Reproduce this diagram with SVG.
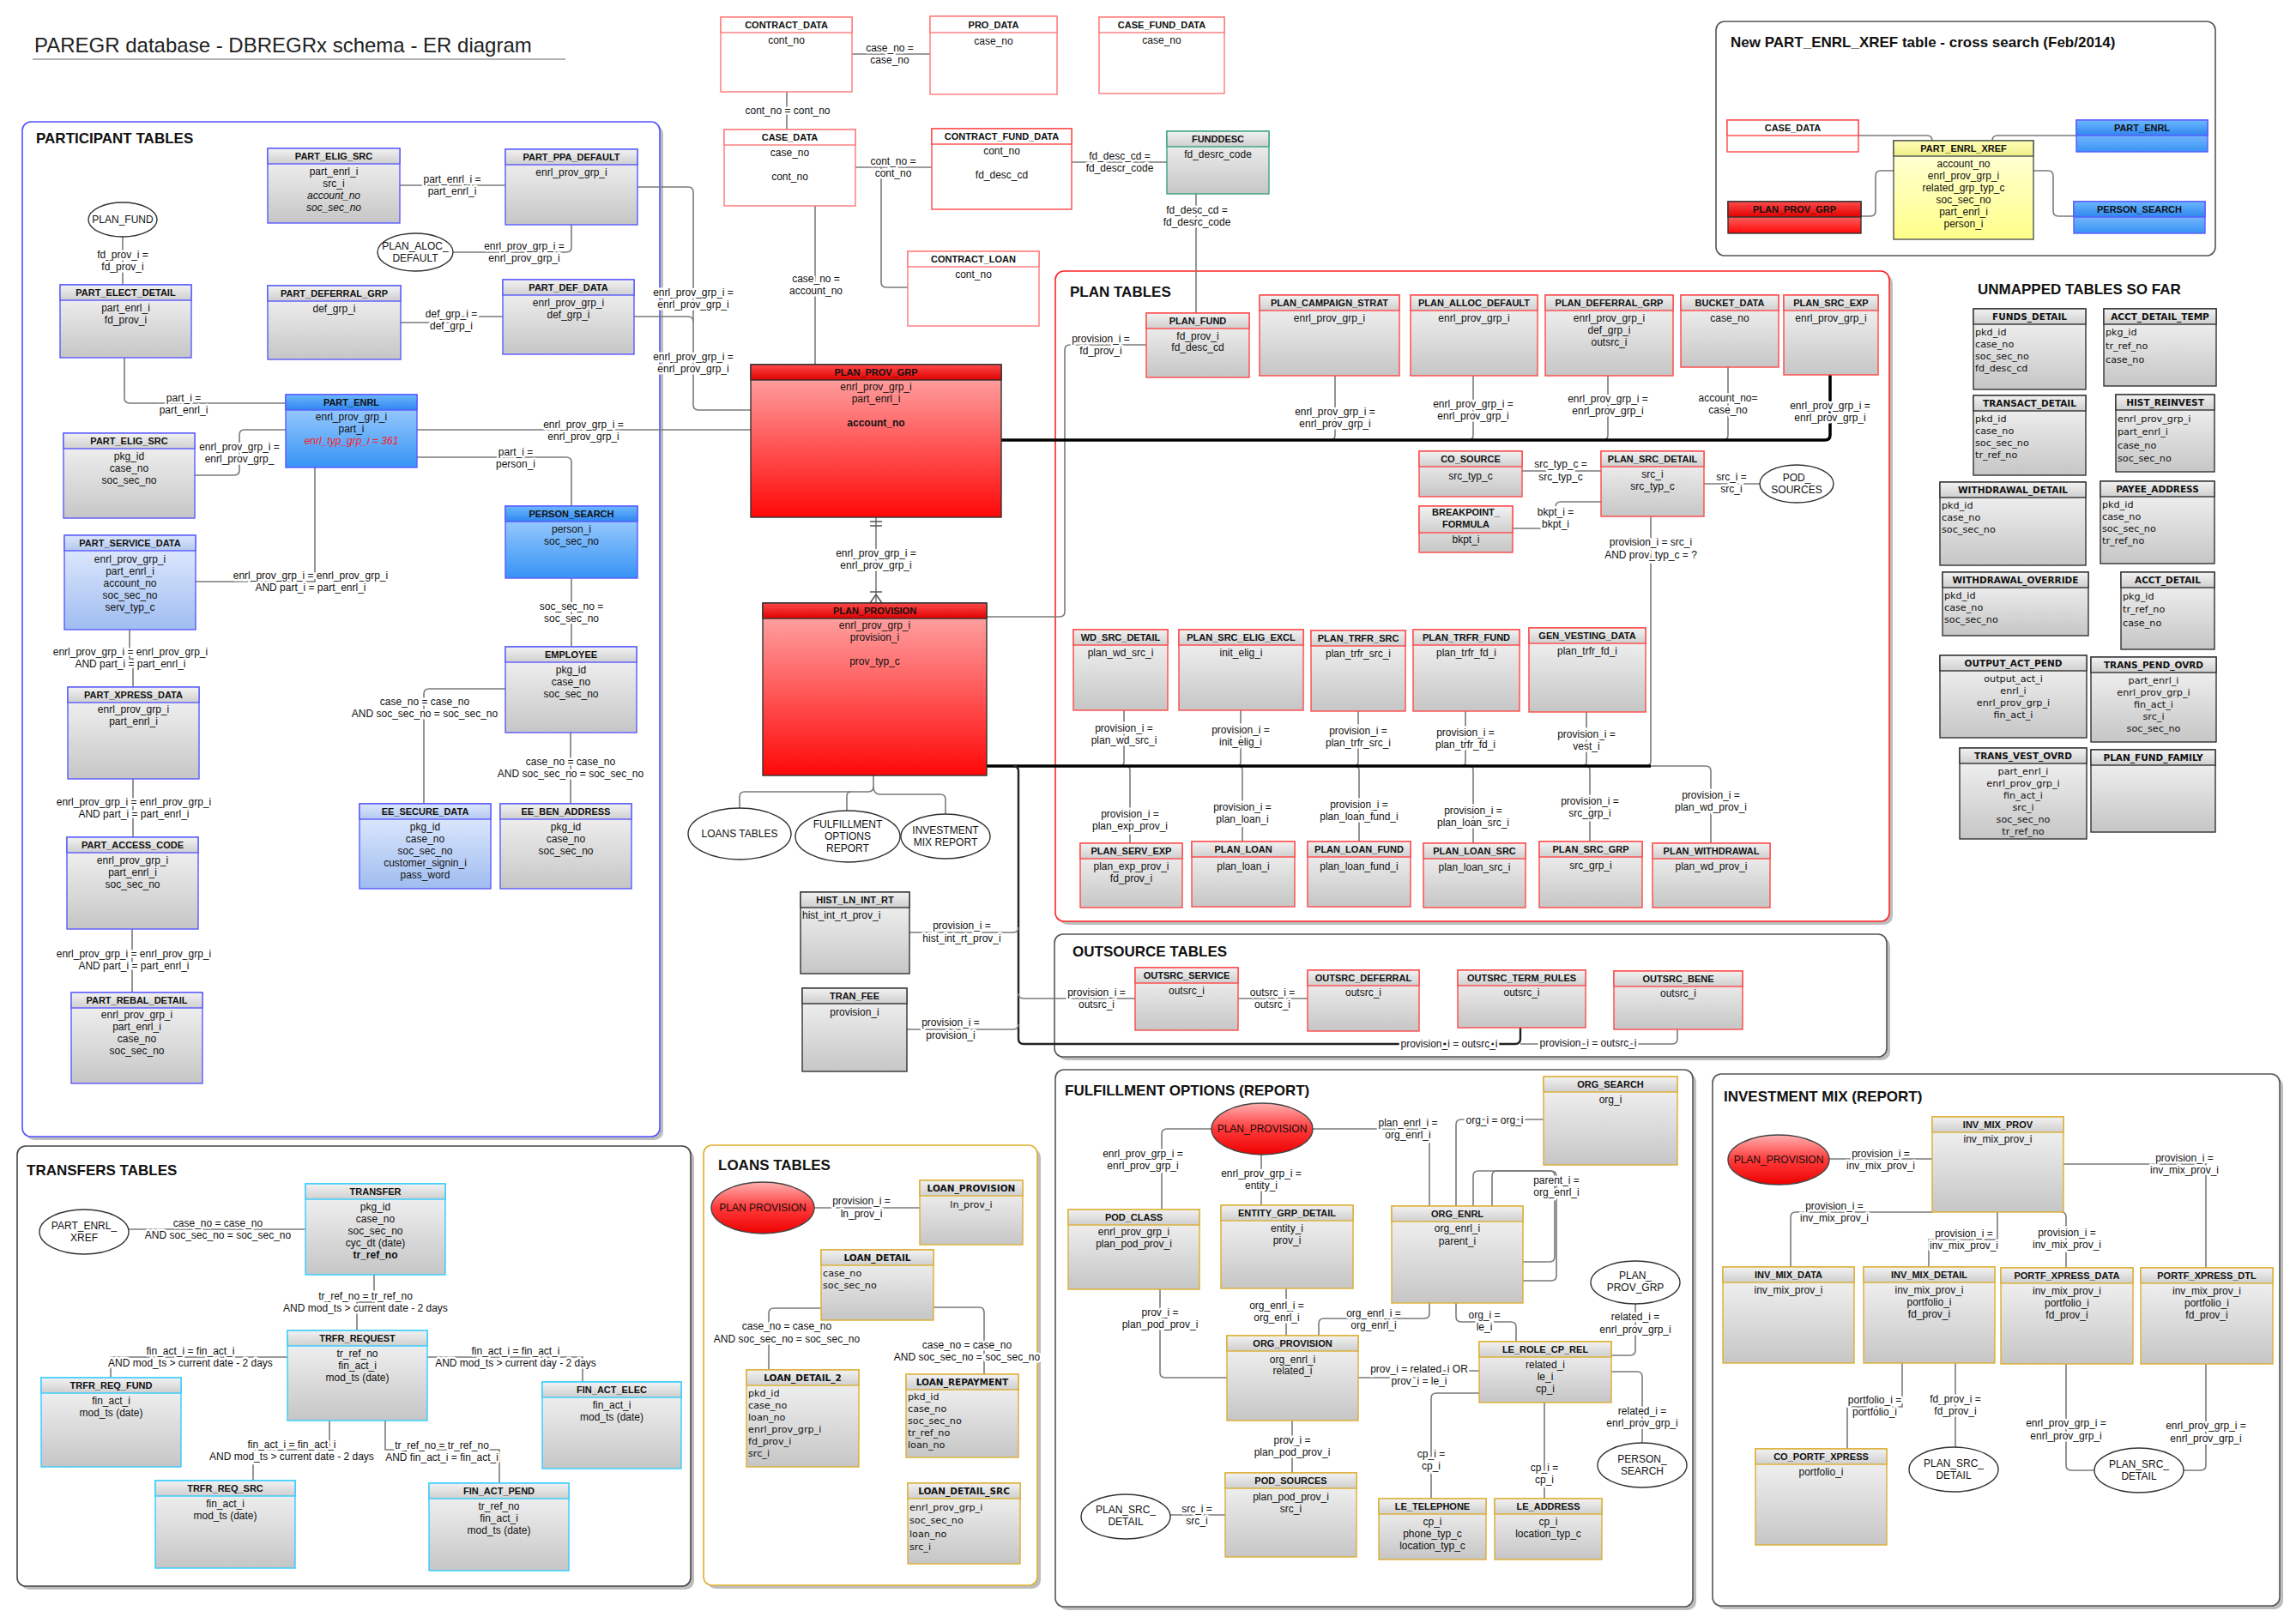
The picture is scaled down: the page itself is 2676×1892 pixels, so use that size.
<svg xmlns="http://www.w3.org/2000/svg" width="2676" height="1892" viewBox="0 0 2676 1892">
<defs>
<linearGradient id="gG" x1="0" y1="0" x2="0" y2="1"><stop offset="0" stop-color="#f6f6f6"/><stop offset="1" stop-color="#c6c6c6"/></linearGradient>
<linearGradient id="gH" x1="0" y1="0" x2="0" y2="1"><stop offset="0" stop-color="#f2f2f2"/><stop offset="1" stop-color="#cfcfcf"/></linearGradient>
<linearGradient id="gB" x1="0" y1="0" x2="0" y2="1"><stop offset="0" stop-color="#acd5ff"/><stop offset="1" stop-color="#3793f5"/></linearGradient>
<linearGradient id="gBh" x1="0" y1="0" x2="0" y2="1"><stop offset="0" stop-color="#6cb8ff"/><stop offset="1" stop-color="#2f86ee"/></linearGradient>
<linearGradient id="gLB" x1="0" y1="0" x2="0" y2="1"><stop offset="0" stop-color="#e6eeff"/><stop offset="1" stop-color="#9fbdf0"/></linearGradient>
<linearGradient id="gLBh" x1="0" y1="0" x2="0" y2="1"><stop offset="0" stop-color="#dae6fc"/><stop offset="1" stop-color="#b4c9f0"/></linearGradient>
<linearGradient id="gR" x1="0" y1="0" x2="0" y2="1"><stop offset="0" stop-color="#ffadad"/><stop offset="1" stop-color="#ff0808"/></linearGradient>
<linearGradient id="gRh" x1="0" y1="0" x2="0" y2="1"><stop offset="0" stop-color="#ff4a4a"/><stop offset="1" stop-color="#e00000"/></linearGradient>
<linearGradient id="gY" x1="0" y1="0" x2="0" y2="1"><stop offset="0" stop-color="#ffffdc"/><stop offset="1" stop-color="#ffff8a"/></linearGradient>
<linearGradient id="gYh" x1="0" y1="0" x2="0" y2="1"><stop offset="0" stop-color="#ffffb8"/><stop offset="1" stop-color="#eeee86"/></linearGradient>
<linearGradient id="gER" x1="0" y1="0" x2="0" y2="1"><stop offset="0" stop-color="#ffb0b0"/><stop offset="0.5" stop-color="#ff3a3a"/><stop offset="1" stop-color="#ee0000"/></linearGradient>
</defs>
<style>
text{font-family:"Liberation Sans",Arial,Helvetica,sans-serif;fill:#111}
.ttl{font-size:24px;fill:#222}
.sec{font-size:17px;font-weight:bold}
.ht{font-size:11px;font-weight:bold;text-anchor:middle}
.f{font-size:12px;text-anchor:middle}
.fl{font-size:12px}
.i{font-style:italic}
.b{font-weight:bold}
.red{fill:#ff1a1a}
.dv text{font-family:"DejaVu Sans",Verdana,sans-serif}
.dv .f,.dv .fl{font-size:11.2px}
.dv .ht{font-size:10.5px}
.l{font-size:12px;text-anchor:middle;stroke:#fff;stroke-width:5;stroke-linejoin:round;paint-order:stroke}
.et{font-size:12px;text-anchor:middle}
.c{fill:none;stroke:#7a7a7a;stroke-width:1.6}
.bus{fill:none;stroke:#000;stroke-width:3.5}
.bus2{fill:none;stroke:#222;stroke-width:2.4}
.tb rect{stroke-width:1.4}
.bd{fill:url(#gG)}
.hd{fill:url(#gH)}
.kb rect{stroke:#5a5aff}
.kr rect{stroke:#ff4848}
.kp rect{stroke:#ff7878}
.ky rect{stroke:#dcae32}
.kc rect{stroke:#33ccff}
.kd rect{stroke:#333}
.kg rect{stroke:#3aa383}
.w .bd,.w .hd{fill:#fff}
.B1 .bd{fill:url(#gB)}
.B1 .hd{fill:url(#gBh)}
.B2 .bd{fill:url(#gLB)}
.B2 .hd{fill:url(#gLBh)}
.R .bd{fill:url(#gR)}
.R .hd{fill:url(#gRh)}
.Y .bd{fill:url(#gY)}
.Y .hd{fill:url(#gYh)}
.el{fill:#fff;stroke:#333;stroke-width:1.4}
.elr{fill:url(#gER);stroke:#444;stroke-width:1.4}
.sh{fill:#bdbdbd}
.pn{fill:#fff;stroke-width:1.6}
</style>
<rect width="2676" height="1892" fill="#fff"/>

<g id="title">
<text class="ttl" x="40" y="61">PAREGR database - DBREGRx schema - ER diagram</text>
<line x1="38" y1="69" x2="659" y2="69" stroke="#999" stroke-width="1.5"/>
</g>

<g id="panels">
<rect class="sh" x="30" y="146" width="743" height="1183" rx="10"/>
<rect class="pn" x="26" y="142" width="743" height="1183" rx="10" stroke="#5050ff"/>
<rect class="sh" x="24" y="1340" width="785" height="513" rx="10"/>
<rect class="pn" x="20" y="1336" width="785" height="513" rx="10" stroke="#444"/>
<rect class="sh" x="824" y="1339" width="389" height="513" rx="10"/>
<rect class="pn" x="820" y="1335" width="389" height="513" rx="10" stroke="#e0b030"/>
<rect class="sh" x="1234" y="320" width="972" height="758" rx="10"/>
<rect class="pn" x="1230" y="316" width="972" height="758" rx="10" stroke="#ff2424"/>
<rect class="sh" x="1233" y="1093" width="970" height="143" rx="10"/>
<rect class="pn" x="1229" y="1089" width="970" height="143" rx="10" stroke="#555"/>
<rect class="sh" x="1234" y="1251" width="743" height="626" rx="10"/>
<rect class="pn" x="1230" y="1247" width="743" height="626" rx="10" stroke="#555"/>
<rect class="sh" x="2000" y="1256" width="661" height="620" rx="10"/>
<rect class="pn" x="1996" y="1252" width="661" height="620" rx="10" stroke="#555"/>
<rect class="pn" x="2000" y="25" width="582" height="273" rx="10" stroke="#555"/>
<text class="sec" x="42" y="167">PARTICIPANT TABLES</text>
<text class="sec" x="31" y="1370">TRANSFERS TABLES</text>
<text class="sec" x="837" y="1364">LOANS TABLES</text>
<text class="sec" x="1247" y="346">PLAN TABLES</text>
<text class="sec" x="1250" y="1115">OUTSOURCE TABLES</text>
<text class="sec" x="1241" y="1277">FULFILLMENT OPTIONS (REPORT)</text>
<text class="sec" x="2009" y="1284">INVESTMENT MIX (REPORT)</text>
<text class="sec" x="2305" y="343">UNMAPPED TABLES SO FAR</text>
<text class="sec" x="2017" y="55">New PART_ENRL_XREF table - cross search (Feb/2014)</text>
</g>

<g id="connectors">
<path class="c" d="M143,276 V332"/>
<path class="c" d="M466,216 H589"/>
<path class="c" d="M528,294 H660 Q666,294 666,288 V262"/>
<path class="c" d="M467,376 H526 V369 H586"/>
<path class="c" d="M145,417 V464 Q145,470 151,470 H333"/>
<path class="c" d="M227,554 H273 Q279,554 279,548 V507 Q279,501 285,501 H333"/>
<path class="c" d="M486,533 H660 Q666,533 666,539 V590"/>
<path class="c" d="M486,501 H875"/>
<path class="c" d="M743,218 H802 Q808,218 808,224 V472 Q808,478 814,478 H875"/>
<path class="c" d="M739,369 H802 Q808,369 808,375"/>
<path class="c" d="M367,545 V678 H228"/>
<path class="c" d="M151,734 V768 H155 V801"/>
<path class="c" d="M155,908 V976"/>
<path class="c" d="M154,1083 V1157"/>
<path class="c" d="M666,674 V754"/>
<path class="c" d="M589,803 H500 Q494,803 494,809 V937"/>
<path class="c" d="M665,854 V937"/>
<path class="c" d="M993,63 H1084"/>
<path class="c" d="M917,107 V151"/>
<path class="c" d="M997,195 H1086"/>
<path class="c" d="M1027,195 V329 Q1027,335 1033,335 H1058"/>
<path class="c" d="M1249,189 H1360"/>
<path class="c" d="M1394,226 V365"/>
<path class="c" d="M950,240 V425"/>
<path class="c" d="M1021,603 V703"/>
<path d="M1014,608 H1028 M1014,613 H1028 M1014,690 H1028 M1021,693 L1014,703 M1021,693 L1028,703" stroke="#555" stroke-width="1.6" fill="none"/>
<path class="c" d="M1150,719 H1235 Q1241,719 1241,713 V408 Q1241,402 1247,402 H1336"/>
<path class="c" d="M1556,438 V507 Q1556,513 1550,513"/>
<path class="c" d="M1717,438 V507 Q1717,513 1711,513"/>
<path class="c" d="M1874,438 V507 Q1874,513 1868,513"/>
<path class="c" d="M2014,428 V507 Q2014,513 2008,513"/>
<path class="bus" d="M1167,513 H2127 Q2133,513 2133,507 V437" stroke-width="3"/>
<path class="c" d="M1924,602 V887 Q1924,893 1918,893"/>
<path class="c" d="M1924,893 H1988 Q1994,893 1994,899 V983"/>
<path class="c" d="M1310,828 V888 Q1310,893 1305,893"/>
<path class="c" d="M1446,828 V888 Q1446,893 1441,893"/>
<path class="c" d="M1583,829 V888 Q1583,893 1578,893"/>
<path class="c" d="M1708,829 V888 Q1708,893 1703,893"/>
<path class="c" d="M1849,830 V888 Q1849,893 1844,893"/>
<path class="c" d="M1312,893 Q1317,893 1317,898 V983"/>
<path class="c" d="M1443,893 Q1448,893 1448,898 V981"/>
<path class="c" d="M1579,893 Q1584,893 1584,898 V981"/>
<path class="c" d="M1712,893 Q1717,893 1717,898 V983"/>
<path class="c" d="M1848,893 Q1853,893 1853,898 V981"/>
<path class="bus" d="M1150,893 H1924"/>
<path class="bus2" d="M1181,893 Q1187,893 1187,899 V1211 Q1187,1217 1193,1217 H1766 Q1772,1217 1772,1211 V1198"/>
<path class="c" d="M1772,1217 H1949 Q1955,1217 1955,1211 V1200"/>
<path class="c" d="M1060,1087 H1181 Q1187,1087 1187,1081"/>
<path class="c" d="M1057,1200 H1181 Q1187,1200 1187,1194"/>
<path class="c" d="M1187,1158 Q1187,1164 1193,1164 H1323"/>
<path class="c" d="M1443,1164 H1524"/>
<path class="c" d="M1018,904 V917 Q1018,923 1012,923 H868 Q862,923 862,929 V942"/>
<path class="c" d="M992,923 Q987,923 987,928 V945"/>
<path class="c" d="M1018,917 Q1018,926 1026,926 H1096 Q1102,926 1102,932 V949"/>
<path class="c" d="M1774,549 H1866"/>
<path class="c" d="M1986,564 H2051"/>
<path class="c" d="M1763,616 H1813 V591 Q1813,585 1819,585 H1866"/>
<path class="c" d="M150,1433 H356"/>
<path class="c" d="M436,1486 V1518 H416 V1551"/>
<path class="c" d="M335,1582 H129 V1606"/>
<path class="c" d="M498,1582 H679 V1611"/>
<path class="c" d="M384,1656 V1690 H295 V1726"/>
<path class="c" d="M449,1656 V1690 H582 V1729"/>
<path class="c" d="M949,1408 H1072"/>
<path class="c" d="M957,1525 H902 Q896,1525 896,1531 V1597"/>
<path class="c" d="M1088,1524 H1141 Q1147,1524 1147,1530 V1602"/>
<path class="c" d="M1412,1316 H1360 Q1354,1316 1354,1322 V1410"/>
<path class="c" d="M1470,1346 V1405"/>
<path class="c" d="M1530,1316 H1660 Q1666,1316 1666,1322 V1406"/>
<path class="c" d="M1799,1305 H1703 Q1697,1305 1697,1311 V1406"/>
<path class="c" d="M1717,1406 V1371 Q1717,1365 1723,1365 H1806 Q1812,1365 1812,1371 V1465 Q1812,1471 1806,1471 H1775"/>
<path class="c" d="M1739,1406 V1371 Q1739,1365 1745,1365 H1808 Q1814,1365 1814,1371 V1487 Q1814,1493 1808,1493 H1775"/>
<path class="c" d="M1666,1519 V1531 Q1666,1537 1660,1537 H1543 Q1537,1537 1537,1543 V1557"/>
<path class="c" d="M1499,1502 V1557"/>
<path class="c" d="M1697,1519 V1535 Q1697,1541 1703,1541 H1761 Q1767,1541 1767,1547 V1564"/>
<path class="c" d="M1352,1503 V1600 Q1352,1606 1358,1606 H1430"/>
<path class="c" d="M1583,1606 H1654 V1598 H1724"/>
<path class="c" d="M1878,1580 H1900 Q1906,1580 1906,1574 V1520"/>
<path class="c" d="M1878,1599 H1908 Q1914,1599 1914,1605 V1682"/>
<path class="c" d="M1724,1624 H1674 Q1668,1624 1668,1630 V1747"/>
<path class="c" d="M1800,1635 V1747"/>
<path class="c" d="M1506,1656 V1717"/>
<path class="c" d="M1364,1766 H1428"/>
<path class="c" d="M2132,1351 H2252"/>
<path class="c" d="M2405,1357 H2571 V1478"/>
<path class="c" d="M2252,1413 H2093 Q2087,1413 2087,1419 V1477"/>
<path class="c" d="M2328,1413 V1445 H2248 V1477"/>
<path class="c" d="M2403,1413 Q2408,1413 2408,1419 V1478"/>
<path class="c" d="M2217,1589 V1640 H2153 V1689"/>
<path class="c" d="M2279,1589 V1687"/>
<path class="c" d="M2408,1590 V1708 Q2408,1714 2414,1714 H2441"/>
<path class="c" d="M2571,1590 V1708 Q2571,1714 2565,1714 H2545"/>
<path class="c" d="M2166,158 H2246 Q2252,158 2252,164"/>
<path class="c" d="M2420,158 H2328 Q2322,158 2322,164"/>
<path class="c" d="M2169,252 H2180 Q2186,252 2186,246 V205 Q2186,199 2192,199 H2207"/>
<path class="c" d="M2417,252 H2399 Q2393,252 2393,246 V205 Q2393,199 2387,199 H2370"/>

<text class="l" x="143" y="301">fd_prov_i =<tspan x="143" dy="14">fd_prov_i</tspan></text>
<text class="l" x="527" y="213">part_enrl_i =<tspan x="527" dy="14">part_enrl_i</tspan></text>
<text class="l" x="611" y="291">enrl_prov_grp_i =<tspan x="611" dy="14">enrl_prov_grp_i</tspan></text>
<text class="l" x="526" y="370">def_grp_i =<tspan x="526" dy="14">def_grp_i</tspan></text>
<text class="l" x="214" y="468">part_i =<tspan x="214" dy="14">part_enrl_i</tspan></text>
<text class="l" x="279" y="525">enrl_prov_grp_i =<tspan x="279" dy="14">enrl_prov_grp_</tspan></text>
<text class="l" x="601" y="531">part_i =<tspan x="601" dy="14">person_i</tspan></text>
<text class="l" x="680" y="499">enrl_prov_grp_i =<tspan x="680" dy="14">enrl_prov_grp_i</tspan></text>
<text class="l" x="808" y="345">enrl_prov_grp_i =<tspan x="808" dy="14">enrl_prov_grp_i</tspan></text>
<text class="l" x="808" y="420">enrl_prov_grp_i =<tspan x="808" dy="14">enrl_prov_grp_i</tspan></text>
<text class="l" x="362" y="675">enrl_prov_grp_i = enrl_prov_grp_i<tspan x="362" dy="14">AND part_i = part_enrl_i</tspan></text>
<text class="l" x="152" y="764">enrl_prov_grp_i = enrl_prov_grp_i<tspan x="152" dy="14">AND part_i = part_enrl_i</tspan></text>
<text class="l" x="156" y="939">enrl_prov_grp_i = enrl_prov_grp_i<tspan x="156" dy="14">AND part_i = part_enrl_i</tspan></text>
<text class="l" x="156" y="1116">enrl_prov_grp_i = enrl_prov_grp_i<tspan x="156" dy="14">AND part_i = part_enrl_i</tspan></text>
<text class="l" x="666" y="711">soc_sec_no =<tspan x="666" dy="14">soc_sec_no</tspan></text>
<text class="l" x="495" y="822">case_no = case_no<tspan x="495" dy="14">AND soc_sec_no = soc_sec_no</tspan></text>
<text class="l" x="665" y="892">case_no = case_no<tspan x="665" dy="14">AND soc_sec_no = soc_sec_no</tspan></text>
<text class="l" x="1037" y="60">case_no =<tspan x="1037" dy="14">case_no</tspan></text>
<text class="l" x="918" y="133">cont_no = cont_no</text>
<text class="l" x="1041" y="192">cont_no =<tspan x="1041" dy="14">cont_no</tspan></text>
<text class="l" x="1305" y="186">fd_desc_cd =<tspan x="1305" dy="14">fd_descr_code</tspan></text>
<text class="l" x="1395" y="249">fd_desc_cd =<tspan x="1395" dy="14">fd_desrc_code</tspan></text>
<text class="l" x="951" y="329">case_no =<tspan x="951" dy="14">account_no</tspan></text>
<text class="l" x="1021" y="649">enrl_prov_grp_i =<tspan x="1021" dy="14">enrl_prov_grp_i</tspan></text>
<text class="l" x="1283" y="399">provision_i =<tspan x="1283" dy="14">fd_prov_i</tspan></text>
<text class="l" x="1556" y="484">enrl_prov_grp_i =<tspan x="1556" dy="14">enrl_prov_grp_i</tspan></text>
<text class="l" x="1717" y="475">enrl_prov_grp_i =<tspan x="1717" dy="14">enrl_prov_grp_i</tspan></text>
<text class="l" x="1874" y="469">enrl_prov_grp_i =<tspan x="1874" dy="14">enrl_prov_grp_i</tspan></text>
<text class="l" x="2014" y="468">account_no=<tspan x="2014" dy="14">case_no</tspan></text>
<text class="l" x="2133" y="477">enrl_prov_grp_i =<tspan x="2133" dy="14">enrl_prov_grp_i</tspan></text>
<text class="l" x="1924" y="636">provision_i = src_i<tspan x="1924" dy="15">AND prov_typ_c = ?</tspan></text>
<text class="l" x="1994" y="931">provision_i =<tspan x="1994" dy="14">plan_wd_prov_i</tspan></text>
<text class="l" x="1310" y="853">provision_i =<tspan x="1310" dy="14">plan_wd_src_i</tspan></text>
<text class="l" x="1446" y="855">provision_i =<tspan x="1446" dy="14">init_elig_i</tspan></text>
<text class="l" x="1583" y="856">provision_i =<tspan x="1583" dy="14">plan_trfr_src_i</tspan></text>
<text class="l" x="1708" y="858">provision_i =<tspan x="1708" dy="14">plan_trfr_fd_i</tspan></text>
<text class="l" x="1849" y="860">provision_i =<tspan x="1849" dy="14">vest_i</tspan></text>
<text class="l" x="1317" y="953">provision_i =<tspan x="1317" dy="14">plan_exp_prov_i</tspan></text>
<text class="l" x="1448" y="945">provision_i =<tspan x="1448" dy="14">plan_loan_i</tspan></text>
<text class="l" x="1584" y="942">provision_i =<tspan x="1584" dy="14">plan_loan_fund_i</tspan></text>
<text class="l" x="1717" y="949">provision_i =<tspan x="1717" dy="14">plan_loan_src_i</tspan></text>
<text class="l" x="1853" y="938">provision_i =<tspan x="1853" dy="14">src_grp_i</tspan></text>
<text class="l" x="1689" y="1221">provision_i = outsrc_i</text>
<text class="l" x="1851" y="1220">provision_i = outsrc_i</text>
<text class="l" x="1121" y="1083">provision_i =<tspan x="1121" dy="15">hist_int_rt_prov_i</tspan></text>
<text class="l" x="1108" y="1196">provision_i =<tspan x="1108" dy="15">provision_i</tspan></text>
<text class="l" x="1278" y="1161">provision_i =<tspan x="1278" dy="14">outsrc_i</tspan></text>
<text class="l" x="1483" y="1161">outsrc_i =<tspan x="1483" dy="14">outsrc_i</tspan></text>
<text class="l" x="1819" y="545">src_typ_c =<tspan x="1819" dy="15">src_typ_c</tspan></text>
<text class="l" x="2018" y="560">src_i =<tspan x="2018" dy="14">src_i</tspan></text>
<text class="l" x="1813" y="601">bkpt_i =<tspan x="1813" dy="14">bkpt_i</tspan></text>
<text class="l" x="254" y="1430">case_no = case_no<tspan x="254" dy="14">AND soc_sec_no = soc_sec_no</tspan></text>
<text class="l" x="426" y="1515">tr_ref_no = tr_ref_no<tspan x="426" dy="14">AND mod_ts &gt; current date - 2 days</tspan></text>
<text class="l" x="222" y="1579">fin_act_i = fin_act_i<tspan x="222" dy="14">AND mod_ts &gt; current date - 2 days</tspan></text>
<text class="l" x="601" y="1579">fin_act_i = fin_act_i<tspan x="601" dy="14">AND mod_ts &gt; current day - 2 days</tspan></text>
<text class="l" x="340" y="1688">fin_act_i = fin_act_i<tspan x="340" dy="14">AND mod_ts &gt; current date - 2 days</tspan></text>
<text class="l" x="515" y="1689">tr_ref_no = tr_ref_no<tspan x="515" dy="14">AND fin_act_i = fin_act_i</tspan></text>
<text class="l" x="1004" y="1404">provision_i =<tspan x="1004" dy="15">ln_prov_i</tspan></text>
<text class="l" x="917" y="1550">case_no = case_no<tspan x="917" dy="15">AND soc_sec_no = soc_sec_no</tspan></text>
<text class="l" x="1127" y="1572">case_no = case_no<tspan x="1127" dy="14">AND soc_sec_no = soc_sec_no</tspan></text>
<text class="l" x="1332" y="1349">enrl_prov_grp_i =<tspan x="1332" dy="14">enrl_prov_grp_i</tspan></text>
<text class="l" x="1470" y="1372">enrl_prov_grp_i =<tspan x="1470" dy="14">entity_i</tspan></text>
<text class="l" x="1641" y="1313">plan_enrl_i =<tspan x="1641" dy="14">org_enrl_i</tspan></text>
<text class="l" x="1742" y="1310">org_i = org_i</text>
<text class="l" x="1814" y="1380">parent_i =<tspan x="1814" dy="14">org_enrl_i</tspan></text>
<text class="l" x="1601" y="1535">org_enrl_i =<tspan x="1601" dy="14">org_enrl_i</tspan></text>
<text class="l" x="1488" y="1526">org_enrl_i =<tspan x="1488" dy="14">org_enrl_i</tspan></text>
<text class="l" x="1730" y="1537">org_i =<tspan x="1730" dy="14">le_i</tspan></text>
<text class="l" x="1352" y="1534">prov_i =<tspan x="1352" dy="14">plan_pod_prov_i</tspan></text>
<text class="l" x="1654" y="1600">prov_i = related_i OR<tspan x="1654" dy="14">prov_i = le_i</tspan></text>
<text class="l" x="1906" y="1539">related_i =<tspan x="1906" dy="15">enrl_prov_grp_i</tspan></text>
<text class="l" x="1914" y="1649">related_i =<tspan x="1914" dy="14">enrl_prov_grp_i</tspan></text>
<text class="l" x="1668" y="1699">cp_i =<tspan x="1668" dy="14">cp_i</tspan></text>
<text class="l" x="1800" y="1715">cp_i =<tspan x="1800" dy="14">cp_i</tspan></text>
<text class="l" x="1506" y="1683">prov_i =<tspan x="1506" dy="14">plan_pod_prov_i</tspan></text>
<text class="l" x="1395" y="1763">src_i =<tspan x="1395" dy="14">src_i</tspan></text>
<text class="l" x="2192" y="1349">provision_i =<tspan x="2192" dy="14">inv_mix_prov_i</tspan></text>
<text class="l" x="2546" y="1354">provision_i =<tspan x="2546" dy="14">inv_mix_prov_i</tspan></text>
<text class="l" x="2138" y="1410">provision_i =<tspan x="2138" dy="14">inv_mix_prov_i</tspan></text>
<text class="l" x="2289" y="1442">provision_i =<tspan x="2289" dy="14">inv_mix_prov_i</tspan></text>
<text class="l" x="2409" y="1441">provision_i =<tspan x="2409" dy="14">inv_mix_prov_i</tspan></text>
<text class="l" x="2185" y="1636">portfolio_i =<tspan x="2185" dy="14">portfolio_i</tspan></text>
<text class="l" x="2279" y="1635">fd_prov_i =<tspan x="2279" dy="14">fd_prov_i</tspan></text>
<text class="l" x="2408" y="1663">enrl_prov_grp_i =<tspan x="2408" dy="15">enrl_prov_grp_i</tspan></text>
<text class="l" x="2571" y="1666">enrl_prov_grp_i =<tspan x="2571" dy="15">enrl_prov_grp_i</tspan></text>
</g>

<g id="ellipses">
<g id="e-PLAN_FUND"><ellipse class="el" cx="143" cy="256" rx="40" ry="20"/><text class="et" x="143" y="260">PLAN_FUND</text></g>
<g id="e-PLAN_ALOC_DEFAULT"><ellipse class="el" cx="484" cy="294" rx="44" ry="22"/><text class="et" x="484" y="291">PLAN_ALOC_<tspan x="484" dy="14">DEFAULT</tspan></text></g>
<g id="e-LOANS_TABLES"><ellipse class="el" cx="862" cy="972" rx="60" ry="30"/><text class="et" x="862" y="976">LOANS TABLES</text></g>
<g id="e-FULFILLMENT"><ellipse class="el" cx="988" cy="975" rx="61" ry="30"/><text class="et" x="988" y="965">FULFILLMENT<tspan x="988" dy="14">OPTIONS</tspan><tspan x="988" dy="14">REPORT</tspan></text></g>
<g id="e-INVESTMENT"><ellipse class="el" cx="1102" cy="975" rx="52" ry="26"/><text class="et" x="1102" y="972">INVESTMENT<tspan x="1102" dy="14">MIX REPORT</tspan></text></g>
<g id="e-PART_ENRL_XREF"><ellipse class="el" cx="98" cy="1436" rx="52" ry="26"/><text class="et" x="98" y="1433">PART_ENRL_<tspan x="98" dy="14">XREF</tspan></text></g>
<g id="e-POD_SOURCES"><ellipse class="el" cx="2094" cy="564" rx="43" ry="22"/><text class="et" x="2094" y="561">POD_<tspan x="2094" dy="14">SOURCES</tspan></text></g>
<g id="e-PLAN_PROVISION-loans"><ellipse class="elr" cx="889" cy="1408" rx="60" ry="30"/><text class="et" x="889" y="1412">PLAN PROVISION</text></g>
<g id="e-PLAN_PROVISION-ful"><ellipse class="elr" cx="1471" cy="1316" rx="59" ry="30"/><text class="et" x="1471" y="1320">PLAN_PROVISION</text></g>
<g id="e-PLAN_PROV_GRP"><ellipse class="el" cx="1906" cy="1495" rx="52" ry="25"/><text class="et" x="1906" y="1491">PLAN_<tspan x="1906" dy="14">PROV_GRP</tspan></text></g>
<g id="e-PERSON_SEARCH"><ellipse class="el" cx="1914" cy="1708" rx="52" ry="26"/><text class="et" x="1914" y="1705">PERSON_<tspan x="1914" dy="14">SEARCH</tspan></text></g>
<g id="e-PLAN_SRC_DETAIL-ful"><ellipse class="el" cx="1312" cy="1768" rx="52" ry="26"/><text class="et" x="1312" y="1764">PLAN_SRC_<tspan x="1312" dy="14">DETAIL</tspan></text></g>
<g id="e-PLAN_PROVISION-inv"><ellipse class="elr" cx="2073" cy="1352" rx="59" ry="29"/><text class="et" x="2073" y="1356">PLAN_PROVISION</text></g>
<g id="e-PLAN_SRC_DETAIL-inv1"><ellipse class="el" cx="2277" cy="1713" rx="52" ry="26"/><text class="et" x="2277" y="1710">PLAN_SRC_<tspan x="2277" dy="14">DETAIL</tspan></text></g>
<g id="e-PLAN_SRC_DETAIL-inv2"><ellipse class="el" cx="2493" cy="1714" rx="52" ry="26"/><text class="et" x="2493" y="1711">PLAN_SRC_<tspan x="2493" dy="14">DETAIL</tspan></text></g>
</g>

<g id="participant-tables">
<g id="PART_ELIG_SRC_1" class="tb kb"><rect class="bd" x="312" y="173" width="154" height="87"/><rect class="hd" x="312" y="173" width="154" height="18"/><text class="ht" x="389" y="186">PART_ELIG_SRC</text><text class="f" x="389" y="204">part_enrl_i</text><text class="f" x="389" y="218">src_i</text><text class="f i" x="389" y="232">account_no</text><text class="f i" x="389" y="246">soc_sec_no</text></g>
<g id="PART_PPA_DEFAULT" class="tb kb"><rect class="bd" x="589" y="174" width="154" height="88"/><rect class="hd" x="589" y="174" width="154" height="18"/><text class="ht" x="666" y="187">PART_PPA_DEFAULT</text><text class="f" x="666" y="205">enrl_prov_grp_i</text></g>
<g id="PART_ELECT_DETAIL" class="tb kb"><rect class="bd" x="70" y="332" width="153" height="85"/><rect class="hd" x="70" y="332" width="153" height="18"/><text class="ht" x="146.5" y="345">PART_ELECT_DETAIL</text><text class="f" x="146.5" y="363">part_enrl_i</text><text class="f" x="146.5" y="377">fd_prov_i</text></g>
<g id="PART_DEFERRAL_GRP" class="tb kb"><rect class="bd" x="312" y="333" width="155" height="86"/><rect class="hd" x="312" y="333" width="155" height="18"/><text class="ht" x="389.5" y="346">PART_DEFERRAL_GRP</text><text class="f" x="389.5" y="364">def_grp_i</text></g>
<g id="PART_DEF_DATA" class="tb kb"><rect class="bd" x="586" y="326" width="153" height="87"/><rect class="hd" x="586" y="326" width="153" height="18"/><text class="ht" x="662.5" y="339">PART_DEF_DATA</text><text class="f" x="662.5" y="357">enrl_prov_grp_i</text><text class="f" x="662.5" y="371">def_grp_i</text></g>
<g id="PART_ENRL" class="tb kb B1"><rect class="bd" x="333" y="460" width="153" height="85"/><rect class="hd" x="333" y="460" width="153" height="18"/><text class="ht" x="409.5" y="473">PART_ENRL</text><text class="f" x="409.5" y="490">enrl_prov_grp_i</text><text class="f" x="409.5" y="504">part_i</text><text class="f i red" x="409.5" y="518">enrl_typ_grp_i = 361</text></g>
<g id="PART_ELIG_SRC_2" class="tb kb"><rect class="bd" x="74" y="505" width="153" height="99"/><rect class="hd" x="74" y="505" width="153" height="18"/><text class="ht" x="150.5" y="518">PART_ELIG_SRC</text><text class="f" x="150.5" y="536">pkg_id</text><text class="f" x="150.5" y="550">case_no</text><text class="f" x="150.5" y="564">soc_sec_no</text></g>
<g id="PERSON_SEARCH" class="tb kb B1"><rect class="bd" x="589" y="590" width="154" height="84"/><rect class="hd" x="589" y="590" width="154" height="18"/><text class="ht" x="666" y="603">PERSON_SEARCH</text><text class="f" x="666" y="621">person_i</text><text class="f" x="666" y="635">soc_sec_no</text></g>
<g id="PART_SERVICE_DATA" class="tb kb B2"><rect class="bd" x="75" y="624" width="153" height="110"/><rect class="hd" x="75" y="624" width="153" height="18"/><text class="ht" x="151.5" y="637">PART_SERVICE_DATA</text><text class="f" x="151.5" y="656">enrl_prov_grp_i</text><text class="f" x="151.5" y="670">part_enrl_i</text><text class="f" x="151.5" y="684">account_no</text><text class="f" x="151.5" y="698">soc_sec_no</text><text class="f" x="151.5" y="712">serv_typ_c</text></g>
<g id="PART_XPRESS_DATA" class="tb kb"><rect class="bd" x="79" y="801" width="153" height="107"/><rect class="hd" x="79" y="801" width="153" height="18"/><text class="ht" x="155.5" y="814">PART_XPRESS_DATA</text><text class="f" x="155.5" y="831">enrl_prov_grp_i</text><text class="f" x="155.5" y="845">part_enrl_i</text></g>
<g id="EMPLOYEE" class="tb kb"><rect class="bd" x="589" y="754" width="153" height="100"/><rect class="hd" x="589" y="754" width="153" height="18"/><text class="ht" x="665.5" y="767">EMPLOYEE</text><text class="f" x="665.5" y="785">pkg_id</text><text class="f" x="665.5" y="799">case_no</text><text class="f" x="665.5" y="813">soc_sec_no</text></g>
<g id="EE_SECURE_DATA" class="tb kb B2"><rect class="bd" x="419" y="937" width="153" height="99"/><rect class="hd" x="419" y="937" width="153" height="18"/><text class="ht" x="495.5" y="950">EE_SECURE_DATA</text><text class="f" x="495.5" y="968">pkg_id</text><text class="f" x="495.5" y="982">case_no</text><text class="f" x="495.5" y="996">soc_sec_no</text><text class="f" x="495.5" y="1010">customer_signin_i</text><text class="f" x="495.5" y="1024">pass_word</text></g>
<g id="EE_BEN_ADDRESS" class="tb kb"><rect class="bd" x="583" y="937" width="153" height="99"/><rect class="hd" x="583" y="937" width="153" height="18"/><text class="ht" x="659.5" y="950">EE_BEN_ADDRESS</text><text class="f" x="659.5" y="968">pkg_id</text><text class="f" x="659.5" y="982">case_no</text><text class="f" x="659.5" y="996">soc_sec_no</text></g>
<g id="PART_ACCESS_CODE" class="tb kb"><rect class="bd" x="78" y="976" width="153" height="107"/><rect class="hd" x="78" y="976" width="153" height="18"/><text class="ht" x="154.5" y="989">PART_ACCESS_CODE</text><text class="f" x="154.5" y="1007">enrl_prov_grp_i</text><text class="f" x="154.5" y="1021">part_enrl_i</text><text class="f" x="154.5" y="1035">soc_sec_no</text></g>
<g id="PART_REBAL_DETAIL" class="tb kb"><rect class="bd" x="83" y="1157" width="153" height="106"/><rect class="hd" x="83" y="1157" width="153" height="18"/><text class="ht" x="159.5" y="1170">PART_REBAL_DETAIL</text><text class="f" x="159.5" y="1187">enrl_prov_grp_i</text><text class="f" x="159.5" y="1201">part_enrl_i</text><text class="f" x="159.5" y="1215">case_no</text><text class="f" x="159.5" y="1229">soc_sec_no</text></g>
</g>

<g id="core-tables">
<g id="CONTRACT_DATA" class="tb kp w"><rect class="bd" x="840" y="20" width="153" height="87"/><rect class="hd" x="840" y="20" width="153" height="18"/><text class="ht" x="916.5" y="33">CONTRACT_DATA</text><text class="f" x="916.5" y="51">cont_no</text></g>
<g id="PRO_DATA" class="tb kp w"><rect class="bd" x="1084" y="19" width="148" height="91"/><rect class="hd" x="1084" y="19" width="148" height="19"/><text class="ht" x="1158" y="33">PRO_DATA</text><text class="f" x="1158" y="52">case_no</text></g>
<g id="CASE_FUND_DATA" class="tb kp w"><rect class="bd" x="1281" y="20" width="146" height="89"/><rect class="hd" x="1281" y="20" width="146" height="18"/><text class="ht" x="1354" y="33">CASE_FUND_DATA</text><text class="f" x="1354" y="51">case_no</text></g>
<g id="CASE_DATA" class="tb kp w"><rect class="bd" x="844" y="151" width="153" height="89"/><rect class="hd" x="844" y="151" width="153" height="18"/><text class="ht" x="920.5" y="164">CASE_DATA</text><text class="f" x="920.5" y="182">case_no</text><text class="f" x="920.5" y="210">cont_no</text></g>
<g id="CONTRACT_FUND_DATA" class="tb kr w"><rect class="bd" x="1086" y="150" width="163" height="94"/><rect class="hd" x="1086" y="150" width="163" height="18"/><text class="ht" x="1167.5" y="163">CONTRACT_FUND_DATA</text><text class="f" x="1167.5" y="180">cont_no</text><text class="f" x="1167.5" y="208">fd_desc_cd</text></g>
<g id="CONTRACT_LOAN" class="tb kp w"><rect class="bd" x="1058" y="293" width="153" height="87"/><rect class="hd" x="1058" y="293" width="153" height="18"/><text class="ht" x="1134.5" y="306">CONTRACT_LOAN</text><text class="f" x="1134.5" y="324">cont_no</text></g>
<g id="FUNDDESC" class="tb kg"><rect class="bd" x="1360" y="153" width="119" height="73"/><rect class="hd" x="1360" y="153" width="119" height="18"/><text class="ht" x="1419.5" y="166">FUNDDESC</text><text class="f" x="1419.5" y="184">fd_desrc_code</text></g>
<g id="PLAN_PROV_GRP" class="tb kd R"><rect class="bd" x="875" y="425" width="292" height="178"/><rect class="hd" x="875" y="425" width="292" height="18"/><text class="ht" x="1021" y="438">PLAN_PROV_GRP</text><text class="f" x="1021" y="455">enrl_prov_grp_i</text><text class="f" x="1021" y="469">part_enrl_i</text><text class="f b" x="1021" y="497">account_no</text></g>
<g id="PLAN_PROVISION" class="tb kd R"><rect class="bd" x="889" y="703" width="261" height="201"/><rect class="hd" x="889" y="703" width="261" height="18"/><text class="ht" x="1019.5" y="716">PLAN_PROVISION</text><text class="f" x="1019.5" y="733">enrl_prov_grp_i</text><text class="f" x="1019.5" y="747">provision_i</text><text class="f" x="1019.5" y="775">prov_typ_c</text></g>
<g id="HIST_LN_INT_RT" class="tb kd"><rect class="bd" x="933" y="1040" width="127" height="95"/><rect class="hd" x="933" y="1040" width="127" height="18"/><text class="ht" x="996.5" y="1053">HIST_LN_INT_RT</text><text class="fl" x="935" y="1071">hist_int_rt_prov_i</text></g>
<g id="TRAN_FEE" class="tb kd"><rect class="bd" x="935" y="1152" width="122" height="97"/><rect class="hd" x="935" y="1152" width="122" height="18"/><text class="ht" x="996" y="1165">TRAN_FEE</text><text class="f" x="996" y="1184">provision_i</text></g>
</g>

<g id="plan-tables">
<g id="PLAN_FUND" class="tb kr"><rect class="bd" x="1336" y="365" width="120" height="75"/><rect class="hd" x="1336" y="365" width="120" height="18"/><text class="ht" x="1396" y="378">PLAN_FUND</text><text class="f" x="1396" y="396">fd_prov_i</text><text class="f" x="1396" y="409">fd_desc_cd</text></g>
<g id="PLAN_CAMPAIGN_STRAT" class="tb kr"><rect class="bd" x="1468" y="344" width="163" height="94"/><rect class="hd" x="1468" y="344" width="163" height="18"/><text class="ht" x="1549.5" y="357">PLAN_CAMPAIGN_STRAT</text><text class="f" x="1549.5" y="375">enrl_prov_grp_i</text></g>
<g id="PLAN_ALLOC_DEFAULT" class="tb kr"><rect class="bd" x="1644" y="344" width="148" height="94"/><rect class="hd" x="1644" y="344" width="148" height="18"/><text class="ht" x="1718" y="357">PLAN_ALLOC_DEFAULT</text><text class="f" x="1718" y="375">enrl_prov_grp_i</text></g>
<g id="PLAN_DEFERRAL_GRP" class="tb kr"><rect class="bd" x="1801" y="344" width="149" height="94"/><rect class="hd" x="1801" y="344" width="149" height="18"/><text class="ht" x="1875.5" y="357">PLAN_DEFERRAL_GRP</text><text class="f" x="1875.5" y="375">enrl_prov_grp_i</text><text class="f" x="1875.5" y="389">def_grp_i</text><text class="f" x="1875.5" y="403">outsrc_i</text></g>
<g id="BUCKET_DATA" class="tb kr"><rect class="bd" x="1959" y="344" width="114" height="84"/><rect class="hd" x="1959" y="344" width="114" height="18"/><text class="ht" x="2016" y="357">BUCKET_DATA</text><text class="f" x="2016" y="375">case_no</text></g>
<g id="PLAN_SRC_EXP" class="tb kr"><rect class="bd" x="2079" y="344" width="110" height="93"/><rect class="hd" x="2079" y="344" width="110" height="18"/><text class="ht" x="2134" y="357">PLAN_SRC_EXP</text><text class="f" x="2134" y="375">enrl_prov_grp_i</text></g>
<g id="CO_SOURCE" class="tb kr"><rect class="bd" x="1654" y="526" width="120" height="53"/><rect class="hd" x="1654" y="526" width="120" height="18"/><text class="ht" x="1714" y="539">CO_SOURCE</text><text class="f" x="1714" y="559">src_typ_c</text></g>
<g id="PLAN_SRC_DETAIL" class="tb kr"><rect class="bd" x="1866" y="526" width="120" height="76"/><rect class="hd" x="1866" y="526" width="120" height="18"/><text class="ht" x="1926" y="539">PLAN_SRC_DETAIL</text><text class="f" x="1926" y="557">src_i</text><text class="f" x="1926" y="571">src_typ_c</text></g>
<g id="BREAKPOINT_FORMULA" class="tb kr"><rect class="bd" x="1654" y="590" width="109" height="54"/><rect class="hd" x="1654" y="590" width="109" height="31"/><text class="ht" x="1708.5" y="601">BREAKPOINT_</text><text class="ht" x="1708.5" y="615">FORMULA</text><text class="f" x="1708.5" y="633">bkpt_i</text></g>
<g id="WD_SRC_DETAIL" class="tb kr"><rect class="bd" x="1251" y="734" width="110" height="94"/><rect class="hd" x="1251" y="734" width="110" height="18"/><text class="ht" x="1306" y="747">WD_SRC_DETAIL</text><text class="f" x="1306" y="765">plan_wd_src_i</text></g>
<g id="PLAN_SRC_ELIG_EXCL" class="tb kr"><rect class="bd" x="1374" y="734" width="145" height="94"/><rect class="hd" x="1374" y="734" width="145" height="18"/><text class="ht" x="1446.5" y="747">PLAN_SRC_ELIG_EXCL</text><text class="f" x="1446.5" y="765">init_elig_i</text></g>
<g id="PLAN_TRFR_SRC" class="tb kr"><rect class="bd" x="1528" y="735" width="110" height="94"/><rect class="hd" x="1528" y="735" width="110" height="18"/><text class="ht" x="1583" y="748">PLAN_TRFR_SRC</text><text class="f" x="1583" y="766">plan_trfr_src_i</text></g>
<g id="PLAN_TRFR_FUND" class="tb kr"><rect class="bd" x="1647" y="734" width="124" height="95"/><rect class="hd" x="1647" y="734" width="124" height="18"/><text class="ht" x="1709" y="747">PLAN_TRFR_FUND</text><text class="f" x="1709" y="765">plan_trfr_fd_i</text></g>
<g id="GEN_VESTING_DATA" class="tb kr"><rect class="bd" x="1782" y="732" width="136" height="98"/><rect class="hd" x="1782" y="732" width="136" height="18"/><text class="ht" x="1850" y="745">GEN_VESTING_DATA</text><text class="f" x="1850" y="763">plan_trfr_fd_i</text></g>
<g id="PLAN_SERV_EXP" class="tb kr"><rect class="bd" x="1259" y="983" width="119" height="75"/><rect class="hd" x="1259" y="983" width="119" height="18"/><text class="ht" x="1318.5" y="996">PLAN_SERV_EXP</text><text class="f" x="1318.5" y="1014">plan_exp_prov_i</text><text class="f" x="1318.5" y="1028">fd_prov_i</text></g>
<g id="PLAN_LOAN" class="tb kr"><rect class="bd" x="1389" y="981" width="120" height="76"/><rect class="hd" x="1389" y="981" width="120" height="18"/><text class="ht" x="1449" y="994">PLAN_LOAN</text><text class="f" x="1449" y="1014">plan_loan_i</text></g>
<g id="PLAN_LOAN_FUND" class="tb kr"><rect class="bd" x="1524" y="981" width="120" height="76"/><rect class="hd" x="1524" y="981" width="120" height="18"/><text class="ht" x="1584" y="994">PLAN_LOAN_FUND</text><text class="f" x="1584" y="1014">plan_loan_fund_i</text></g>
<g id="PLAN_LOAN_SRC" class="tb kr"><rect class="bd" x="1659" y="983" width="119" height="75"/><rect class="hd" x="1659" y="983" width="119" height="18"/><text class="ht" x="1718.5" y="996">PLAN_LOAN_SRC</text><text class="f" x="1718.5" y="1015">plan_loan_src_i</text></g>
<g id="PLAN_SRC_GRP" class="tb kr"><rect class="bd" x="1794" y="981" width="120" height="77"/><rect class="hd" x="1794" y="981" width="120" height="18"/><text class="ht" x="1854" y="994">PLAN_SRC_GRP</text><text class="f" x="1854" y="1013">src_grp_i</text></g>
<g id="PLAN_WITHDRAWAL" class="tb kr"><rect class="bd" x="1926" y="983" width="137" height="75"/><rect class="hd" x="1926" y="983" width="137" height="18"/><text class="ht" x="1994.5" y="996">PLAN_WITHDRAWAL</text><text class="f" x="1994.5" y="1014">plan_wd_prov_i</text></g>
</g>

<g id="outsource-tables">
<g id="OUTSRC_SERVICE" class="tb kr"><rect class="bd" x="1323" y="1128" width="120" height="73"/><rect class="hd" x="1323" y="1128" width="120" height="18"/><text class="ht" x="1383" y="1141">OUTSRC_SERVICE</text><text class="f" x="1383" y="1159">outsrc_i</text></g>
<g id="OUTSRC_DEFERRAL" class="tb kr"><rect class="bd" x="1524" y="1131" width="130" height="71"/><rect class="hd" x="1524" y="1131" width="130" height="18"/><text class="ht" x="1589" y="1144">OUTSRC_DEFERRAL</text><text class="f" x="1589" y="1161">outsrc_i</text></g>
<g id="OUTSRC_TERM_RULES" class="tb kr"><rect class="bd" x="1699" y="1131" width="149" height="67"/><rect class="hd" x="1699" y="1131" width="149" height="18"/><text class="ht" x="1773.5" y="1144">OUTSRC_TERM_RULES</text><text class="f" x="1773.5" y="1161">outsrc_i</text></g>
<g id="OUTSRC_BENE" class="tb kr"><rect class="bd" x="1881" y="1132" width="150" height="68"/><rect class="hd" x="1881" y="1132" width="150" height="18"/><text class="ht" x="1956" y="1145">OUTSRC_BENE</text><text class="f" x="1956" y="1162">outsrc_i</text></g>
</g>

<g id="transfer-tables">
<g id="TRANSFER" class="tb kc"><rect class="bd" x="356" y="1380" width="163" height="106"/><rect class="hd" x="356" y="1380" width="163" height="18"/><text class="ht" x="437.5" y="1393">TRANSFER</text><text class="f" x="437.5" y="1411">pkg_id</text><text class="f" x="437.5" y="1425">case_no</text><text class="f" x="437.5" y="1439">soc_sec_no</text><text class="f" x="437.5" y="1453">cyc_dt (date)</text><text class="f b" x="437.5" y="1467">tr_ref_no</text></g>
<g id="TRFR_REQUEST" class="tb kc"><rect class="bd" x="335" y="1551" width="163" height="105"/><rect class="hd" x="335" y="1551" width="163" height="18"/><text class="ht" x="416.5" y="1564">TRFR_REQUEST</text><text class="f" x="416.5" y="1582">tr_ref_no</text><text class="f" x="416.5" y="1596">fin_act_i</text><text class="f" x="416.5" y="1610">mod_ts (date)</text></g>
<g id="TRFR_REQ_FUND" class="tb kc"><rect class="bd" x="48" y="1606" width="163" height="104"/><rect class="hd" x="48" y="1606" width="163" height="18"/><text class="ht" x="129.5" y="1619">TRFR_REQ_FUND</text><text class="f" x="129.5" y="1637">fin_act_i</text><text class="f" x="129.5" y="1651">mod_ts (date)</text></g>
<g id="FIN_ACT_ELEC" class="tb kc"><rect class="bd" x="632" y="1611" width="162" height="101"/><rect class="hd" x="632" y="1611" width="162" height="18"/><text class="ht" x="713" y="1624">FIN_ACT_ELEC</text><text class="f" x="713" y="1642">fin_act_i</text><text class="f" x="713" y="1656">mod_ts (date)</text></g>
<g id="TRFR_REQ_SRC" class="tb kc"><rect class="bd" x="181" y="1726" width="163" height="102"/><rect class="hd" x="181" y="1726" width="163" height="18"/><text class="ht" x="262.5" y="1739">TRFR_REQ_SRC</text><text class="f" x="262.5" y="1757">fin_act_i</text><text class="f" x="262.5" y="1771">mod_ts (date)</text></g>
<g id="FIN_ACT_PEND" class="tb kc"><rect class="bd" x="500" y="1729" width="163" height="102"/><rect class="hd" x="500" y="1729" width="163" height="18"/><text class="ht" x="581.5" y="1742">FIN_ACT_PEND</text><text class="f" x="581.5" y="1760">tr_ref_no</text><text class="f" x="581.5" y="1774">fin_act_i</text><text class="f" x="581.5" y="1788">mod_ts (date)</text></g>
</g>

<g id="loan-tables">
<g id="LOAN_PROVISION" class="tb ky dv"><rect class="bd" x="1072" y="1376" width="120" height="75"/><rect class="hd" x="1072" y="1376" width="120" height="18"/><text class="ht" x="1132" y="1389">LOAN_PROVISION</text><text class="f" x="1132" y="1408">ln_prov_i</text></g>
<g id="LOAN_DETAIL" class="tb ky dv"><rect class="bd" x="957" y="1457" width="131" height="82"/><rect class="hd" x="957" y="1457" width="131" height="18"/><text class="ht" x="1022.5" y="1470">LOAN_DETAIL</text><text class="fl" x="959" y="1488">case_no</text><text class="fl" x="959" y="1502">soc_sec_no</text></g>
<g id="LOAN_DETAIL_2" class="tb ky dv"><rect class="bd" x="870" y="1597" width="131" height="113"/><rect class="hd" x="870" y="1597" width="131" height="18"/><text class="ht" x="935.5" y="1610">LOAN_DETAIL_2</text><text class="fl" x="872" y="1628">pkd_id</text><text class="fl" x="872" y="1642">case_no</text><text class="fl" x="872" y="1656">loan_no</text><text class="fl" x="872" y="1670">enrl_prov_grp_i</text><text class="fl" x="872" y="1684">fd_prov_i</text><text class="fl" x="872" y="1698">src_i</text></g>
<g id="LOAN_REPAYMENT" class="tb ky dv"><rect class="bd" x="1056" y="1602" width="131" height="97"/><rect class="hd" x="1056" y="1602" width="131" height="18"/><text class="ht" x="1121.5" y="1615">LOAN_REPAYMENT</text><text class="fl" x="1058" y="1632">pkd_id</text><text class="fl" x="1058" y="1646">case_no</text><text class="fl" x="1058" y="1660">soc_sec_no</text><text class="fl" x="1058" y="1674">tr_ref_no</text><text class="fl" x="1058" y="1688">loan_no</text></g>
<g id="LOAN_DETAIL_SRC" class="tb ky dv"><rect class="bd" x="1058" y="1729" width="131" height="94"/><rect class="hd" x="1058" y="1729" width="131" height="18"/><text class="ht" x="1123.5" y="1742">LOAN_DETAIL_SRC</text><text class="fl" x="1060" y="1761">enrl_prov_grp_i</text><text class="fl" x="1060" y="1776">soc_sec_no</text><text class="fl" x="1060" y="1792">loan_no</text><text class="fl" x="1060" y="1807">src_i</text></g>
</g>

<g id="fulfillment-tables">
<g id="POD_CLASS" class="tb ky"><rect class="bd" x="1245" y="1410" width="153" height="93"/><rect class="hd" x="1245" y="1410" width="153" height="18"/><text class="ht" x="1321.5" y="1423">POD_CLASS</text><text class="f" x="1321.5" y="1440">enrl_prov_grp_i</text><text class="f" x="1321.5" y="1454">plan_pod_prov_i</text></g>
<g id="ENTITY_GRP_DETAIL" class="tb ky"><rect class="bd" x="1423" y="1405" width="154" height="97"/><rect class="hd" x="1423" y="1405" width="154" height="18"/><text class="ht" x="1500" y="1418">ENTITY_GRP_DETAIL</text><text class="f" x="1500" y="1436">entity_i</text><text class="f" x="1500" y="1450">prov_i</text></g>
<g id="ORG_SEARCH" class="tb ky"><rect class="bd" x="1799" y="1255" width="156" height="103"/><rect class="hd" x="1799" y="1255" width="156" height="18"/><text class="ht" x="1877" y="1268">ORG_SEARCH</text><text class="f" x="1877" y="1286">org_i</text></g>
<g id="ORG_ENRL" class="tb ky"><rect class="bd" x="1622" y="1406" width="153" height="113"/><rect class="hd" x="1622" y="1406" width="153" height="18"/><text class="ht" x="1698.5" y="1419">ORG_ENRL</text><text class="f" x="1698.5" y="1436">org_enrl_i</text><text class="f" x="1698.5" y="1451">parent_i</text></g>
<g id="ORG_PROVISION" class="tb ky"><rect class="bd" x="1430" y="1557" width="153" height="99"/><rect class="hd" x="1430" y="1557" width="153" height="18"/><text class="ht" x="1506.5" y="1570">ORG_PROVISION</text><text class="f" x="1506.5" y="1589">org_enrl_i</text><text class="f" x="1506.5" y="1602">related_i</text></g>
<g id="LE_ROLE_CP_REL" class="tb ky"><rect class="bd" x="1724" y="1564" width="154" height="71"/><rect class="hd" x="1724" y="1564" width="154" height="18"/><text class="ht" x="1801" y="1577">LE_ROLE_CP_REL</text><text class="f" x="1801" y="1595">related_i</text><text class="f" x="1801" y="1609">le_i</text><text class="f" x="1801" y="1623">cp_i</text></g>
<g id="LE_TELEPHONE" class="tb ky"><rect class="bd" x="1607" y="1747" width="125" height="71"/><rect class="hd" x="1607" y="1747" width="125" height="18"/><text class="ht" x="1669.5" y="1760">LE_TELEPHONE</text><text class="f" x="1669.5" y="1778">cp_i</text><text class="f" x="1669.5" y="1792">phone_typ_c</text><text class="f" x="1669.5" y="1806">location_typ_c</text></g>
<g id="LE_ADDRESS" class="tb ky"><rect class="bd" x="1742" y="1747" width="125" height="71"/><rect class="hd" x="1742" y="1747" width="125" height="18"/><text class="ht" x="1804.5" y="1760">LE_ADDRESS</text><text class="f" x="1804.5" y="1778">cp_i</text><text class="f" x="1804.5" y="1792">location_typ_c</text></g>
<g id="POD_SOURCES" class="tb ky"><rect class="bd" x="1428" y="1717" width="153" height="98"/><rect class="hd" x="1428" y="1717" width="153" height="18"/><text class="ht" x="1504.5" y="1730">POD_SOURCES</text><text class="f" x="1504.5" y="1749">plan_pod_prov_i</text><text class="f" x="1504.5" y="1763">src_i</text></g>
</g>

<g id="investment-tables">
<g id="INV_MIX_PROV" class="tb ky"><rect class="bd" x="2252" y="1302" width="153" height="111"/><rect class="hd" x="2252" y="1302" width="153" height="18"/><text class="ht" x="2328.5" y="1315">INV_MIX_PROV</text><text class="f" x="2328.5" y="1332">inv_mix_prov_i</text></g>
<g id="INV_MIX_DATA" class="tb ky"><rect class="bd" x="2008" y="1477" width="153" height="112"/><rect class="hd" x="2008" y="1477" width="153" height="18"/><text class="ht" x="2084.5" y="1490">INV_MIX_DATA</text><text class="f" x="2084.5" y="1508">inv_mix_prov_i</text></g>
<g id="INV_MIX_DETAIL" class="tb ky"><rect class="bd" x="2172" y="1477" width="153" height="112"/><rect class="hd" x="2172" y="1477" width="153" height="18"/><text class="ht" x="2248.5" y="1490">INV_MIX_DETAIL</text><text class="f" x="2248.5" y="1508">inv_mix_prov_i</text><text class="f" x="2248.5" y="1522">portfolio_i</text><text class="f" x="2248.5" y="1536">fd_prov_i</text></g>
<g id="PORTF_XPRESS_DATA" class="tb ky"><rect class="bd" x="2332" y="1478" width="154" height="112"/><rect class="hd" x="2332" y="1478" width="154" height="18"/><text class="ht" x="2409" y="1491">PORTF_XPRESS_DATA</text><text class="f" x="2409" y="1509">inv_mix_prov_i</text><text class="f" x="2409" y="1523">portfolio_i</text><text class="f" x="2409" y="1537">fd_prov_i</text></g>
<g id="PORTF_XPRESS_DTL" class="tb ky"><rect class="bd" x="2495" y="1478" width="154" height="112"/><rect class="hd" x="2495" y="1478" width="154" height="18"/><text class="ht" x="2572" y="1491">PORTF_XPRESS_DTL</text><text class="f" x="2572" y="1509">inv_mix_prov_i</text><text class="f" x="2572" y="1523">portfolio_i</text><text class="f" x="2572" y="1537">fd_prov_i</text></g>
<g id="CO_PORTF_XPRESS" class="tb ky"><rect class="bd" x="2046" y="1689" width="153" height="112"/><rect class="hd" x="2046" y="1689" width="153" height="18"/><text class="ht" x="2122.5" y="1702">CO_PORTF_XPRESS</text><text class="f" x="2122.5" y="1720">portfolio_i</text></g>
</g>

<g id="xref-tables">
<g id="X_CASE_DATA" class="tb kr w"><rect class="bd" x="2013" y="140" width="153" height="37"/><rect class="hd" x="2013" y="140" width="153" height="18"/><text class="ht" x="2089.5" y="153">CASE_DATA</text></g>
<g id="X_PART_ENRL" class="tb kb B1"><rect class="bd" x="2420" y="140" width="153" height="37"/><rect class="hd" x="2420" y="140" width="153" height="18"/><text class="ht" x="2496.5" y="153">PART_ENRL</text></g>
<g id="X_PLAN_PROV_GRP" class="tb kd R"><rect class="bd" x="2014" y="235" width="155" height="37"/><rect class="hd" x="2014" y="235" width="155" height="18"/><text class="ht" x="2091.5" y="248">PLAN_PROV_GRP</text></g>
<g id="X_PERSON_SEARCH" class="tb kb B1"><rect class="bd" x="2417" y="235" width="153" height="37"/><rect class="hd" x="2417" y="235" width="153" height="18"/><text class="ht" x="2493.5" y="248">PERSON_SEARCH</text></g>
<g id="PART_ENRL_XREF" class="tb Y"><rect class="bd" x="2207" y="164" width="163" height="115" stroke="#555"/><rect class="hd" x="2207" y="164" width="163" height="18" stroke="#555"/><text class="ht" x="2288.5" y="177">PART_ENRL_XREF</text><text class="f" x="2288.5" y="195">account_no</text><text class="f" x="2288.5" y="209">enrl_prov_grp_i</text><text class="f" x="2288.5" y="223">related_grp_typ_c</text><text class="f" x="2288.5" y="237">soc_sec_no</text><text class="f" x="2288.5" y="251">part_enrl_i</text><text class="f" x="2288.5" y="265">person_i</text></g>
</g>

<g id="unmapped-tables">
<g id="FUNDS_DETAIL" class="tb kd dv"><rect class="bd" x="2300" y="360" width="131" height="94"/><rect class="hd" x="2300" y="360" width="131" height="18"/><text class="ht" x="2365.5" y="373">FUNDS_DETAIL</text><text class="fl" x="2302" y="391">pkd_id</text><text class="fl" x="2302" y="405">case_no</text><text class="fl" x="2302" y="419">soc_sec_no</text><text class="fl" x="2302" y="433">fd_desc_cd</text></g>
<g id="ACCT_DETAIL_TEMP" class="tb kd dv"><rect class="bd" x="2452" y="360" width="131" height="90"/><rect class="hd" x="2452" y="360" width="131" height="18"/><text class="ht" x="2517.5" y="373">ACCT_DETAIL_TEMP</text><text class="fl" x="2454" y="391">pkg_id</text><text class="fl" x="2454" y="407">tr_ref_no</text><text class="fl" x="2454" y="423">case_no</text></g>
<g id="TRANSACT_DETAIL" class="tb kd dv"><rect class="bd" x="2300" y="461" width="131" height="93"/><rect class="hd" x="2300" y="461" width="131" height="18"/><text class="ht" x="2365.5" y="474">TRANSACT_DETAIL</text><text class="fl" x="2302" y="492">pkd_id</text><text class="fl" x="2302" y="506">case_no</text><text class="fl" x="2302" y="520">soc_sec_no</text><text class="fl" x="2302" y="534">tr_ref_no</text></g>
<g id="HIST_REINVEST" class="tb kd dv"><rect class="bd" x="2466" y="460" width="115" height="90"/><rect class="hd" x="2466" y="460" width="115" height="18"/><text class="ht" x="2523.5" y="473">HIST_REINVEST</text><text class="fl" x="2468" y="492">enrl_prov_grp_i</text><text class="fl" x="2468" y="507">part_enrl_i</text><text class="fl" x="2468" y="523">case_no</text><text class="fl" x="2468" y="538">soc_sec_no</text></g>
<g id="WITHDRAWAL_DETAIL" class="tb kd dv"><rect class="bd" x="2261" y="562" width="170" height="97"/><rect class="hd" x="2261" y="562" width="170" height="18"/><text class="ht" x="2346" y="575">WITHDRAWAL_DETAIL</text><text class="fl" x="2263" y="593">pkd_id</text><text class="fl" x="2263" y="607">case_no</text><text class="fl" x="2263" y="621">soc_sec_no</text></g>
<g id="PAYEE_ADDRESS" class="tb kd dv"><rect class="bd" x="2448" y="561" width="133" height="96"/><rect class="hd" x="2448" y="561" width="133" height="18"/><text class="ht" x="2514.5" y="574">PAYEE_ADDRESS</text><text class="fl" x="2450" y="592">pkd_id</text><text class="fl" x="2450" y="606">case_no</text><text class="fl" x="2450" y="620">soc_sec_no</text><text class="fl" x="2450" y="634">tr_ref_no</text></g>
<g id="WITHDRAWAL_OVERRIDE" class="tb kd dv"><rect class="bd" x="2264" y="667" width="170" height="74"/><rect class="hd" x="2264" y="667" width="170" height="18"/><text class="ht" x="2349" y="680">WITHDRAWAL_OVERRIDE</text><text class="fl" x="2266" y="698">pkd_id</text><text class="fl" x="2266" y="712">case_no</text><text class="fl" x="2266" y="726">soc_sec_no</text></g>
<g id="ACCT_DETAIL" class="tb kd dv"><rect class="bd" x="2472" y="667" width="109" height="90"/><rect class="hd" x="2472" y="667" width="109" height="18"/><text class="ht" x="2526.5" y="680">ACCT_DETAIL</text><text class="fl" x="2474" y="699">pkg_id</text><text class="fl" x="2474" y="714">tr_ref_no</text><text class="fl" x="2474" y="730">case_no</text></g>
<g id="OUTPUT_ACT_PEND" class="tb kd dv"><rect class="bd" x="2261" y="764" width="171" height="96"/><rect class="hd" x="2261" y="764" width="171" height="18"/><text class="ht" x="2346.5" y="777">OUTPUT_ACT_PEND</text><text class="f" x="2346.5" y="795">output_act_i</text><text class="f" x="2346.5" y="809">enrl_i</text><text class="f" x="2346.5" y="823">enrl_prov_grp_i</text><text class="f" x="2346.5" y="837">fin_act_i</text></g>
<g id="TRANS_PEND_OVRD" class="tb kd dv"><rect class="bd" x="2437" y="766" width="146" height="99"/><rect class="hd" x="2437" y="766" width="146" height="18"/><text class="ht" x="2510" y="779">TRANS_PEND_OVRD</text><text class="f" x="2510" y="797">part_enrl_i</text><text class="f" x="2510" y="811">enrl_prov_grp_i</text><text class="f" x="2510" y="825">fin_act_i</text><text class="f" x="2510" y="839">src_i</text><text class="f" x="2510" y="853">soc_sec_no</text></g>
<g id="TRANS_VEST_OVRD" class="tb kd dv"><rect class="bd" x="2284" y="872" width="148" height="106"/><rect class="hd" x="2284" y="872" width="148" height="18"/><text class="ht" x="2358" y="885">TRANS_VEST_OVRD</text><text class="f" x="2358" y="903">part_enrl_i</text><text class="f" x="2358" y="917">enrl_prov_grp_i</text><text class="f" x="2358" y="931">fin_act_i</text><text class="f" x="2358" y="945">src_i</text><text class="f" x="2358" y="959">soc_sec_no</text><text class="f" x="2358" y="973">tr_ref_no</text></g>
<g id="PLAN_FUND_FAMILY" class="tb kd dv"><rect class="bd" x="2437" y="874" width="145" height="96"/><rect class="hd" x="2437" y="874" width="145" height="18"/><text class="ht" x="2509.5" y="887">PLAN_FUND_FAMILY</text></g>
</g>
</svg>
